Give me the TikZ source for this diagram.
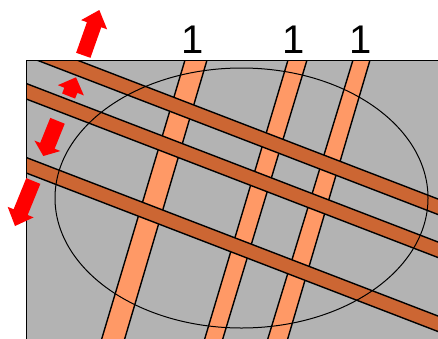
\documentclass[tikz,border=0pt]{standalone}
\usepackage{fontspec}
\setmainfont{Liberation Sans}
\usetikzlibrary{calc}
\definecolor{plate}{RGB}{179,179,179}
\definecolor{lightstrip}{RGB}{255,153,102}
\definecolor{darkstrip}{RGB}{204,102,51}
\definecolor{pushred}{RGB}{255,0,0}
% block arrow: tail, tip, shaft half width, head half width, head length
\newcommand\pusharrow[5]{%
  \coordinate (hb) at ($(#2)!#5!(#1)$);
  \fill[pushred] ($(#1)!#3!90:(#2)$) -- ($(hb)!#3!90:(#2)$) -- ($(hb)!#4!90:(#2)$) -- (#2)
    -- ($(hb)!#4!-90:(#2)$) -- ($(hb)!#3!-90:(#2)$) -- ($(#1)!#3!-90:(#2)$) -- cycle;}

\begin{document}
\begin{tikzpicture}[x=1pt,y=-1pt,every node/.style={font=\fontsize{40}{40}\selectfont,inner sep=0pt},
  strip/.style={draw=black,line width=1.4pt}]
\useasboundingbox (0,0) rectangle (438,338);
\fill[plate] (26,60) rectangle (440,340);
\begin{scope}
\clip (26,60) rectangle (440,340);
% light strips
\foreach \a/\b/\c/\d in {186.5/208.5/121.4/98.4, 289.5/308.5/219.4/201.4, 354.5/371.5/284.4/264.4}
  \filldraw[strip,fill=lightstrip] (\a,55) -- (\b,55) -- (\c,350) -- (\d,350) -- cycle;
% dark strips
\foreach \u/\v in {38.1/201.7, 81.1/244.7, 155.1/318.7}
  \filldraw[strip,fill=darkstrip] (20,\u) -- (445,\v) -- (445,\v+15.5) -- (20,\u+15.5) -- cycle;
\draw[line width=1pt] (241.5,198) ellipse [x radius=186.5, y radius=130];
\end{scope}
\draw[line width=1pt] (26,340) -- (26,60) -- (440,60);
\node[anchor=base] (lab1) at (193,53) {1};
\node[anchor=base] (lab2) at (294,53) {1};
\node[anchor=base] (lab3) at (361,53) {1};
% arrows
\coordinate (t1) at (83.3,55.3);
\coordinate (p1) at (99.3,10);
\coordinate (t2) at (68.6,96);
\coordinate (p2) at (76,77.3);
\coordinate (t3) at (57.5,120.8);
\coordinate (p3) at (43.3,156);
\coordinate (t4) at (33.3,181);
\coordinate (p4) at (15,226);
\pusharrow{t1}{p1}{7.6pt}{13.8pt}{15.6pt}
\pusharrow{t2}{p2}{7pt}{14pt}{14pt}
\pusharrow{t3}{p3}{7.8pt}{14pt}{11pt}
\pusharrow{t4}{p4}{7.6pt}{14pt}{15pt}
\end{tikzpicture}
\end{document}
